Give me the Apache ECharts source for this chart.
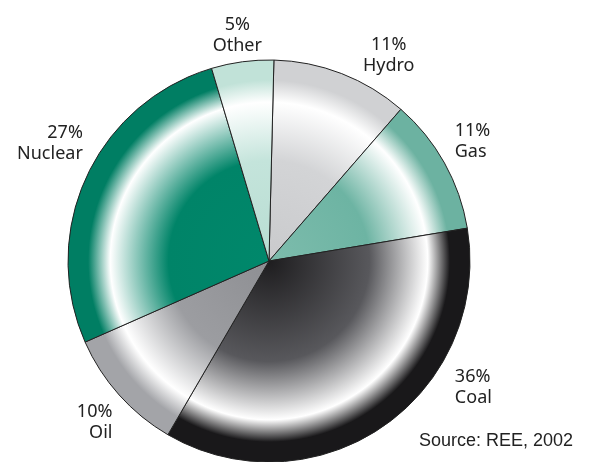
<!DOCTYPE html>
<html>
<head>
<meta charset="utf-8">
<script src="https://cdn.jsdelivr.net/npm/echarts@6/dist/echarts.min.js"></script>
<style>
  html, body { margin: 0; padding: 0; background: #fff; }
  #chart { width: 590px; height: 462px; }
</style>
</head>
<body>
<div id="chart"></div>
<script>
// electricity generation by source (clockwise from the top)
var sources = ['Hydro', 'Gas', 'Coal', 'Oil', 'Nuclear', 'Other'];
var shares = [11, 11, 36, 10, 27, 5];

// look of each slice: colour near centre, mid colour, edge colour
var innerColors = ['#c9cacc', '#7dbcac', '#1e1d1f', '#8e8f93', '#00886b', '#b8ddd2'];
var midColors = ['#d3d4d6', '#6db4a3', '#58585c', '#9c9da1', '#008468', '#c4e4db'];
var outerColors = ['#d0d1d3', '#6cb2a1', '#19181a', '#a3a4a8', '#007e63', '#c1e2d8'];

// label placement (angle in degrees, distance from centre, text alignment)
var labelAngle = [59.8, 32.8, -34.3, -134.1, 147.8, 98];
var labelDist = [238, 221, 225, 225, 220, 228];
var labelAlign = ['center', 'left', 'left', 'right', 'right', 'center'];

var CX = 269, CY = 261, R = 201;

function sliceColor(i) {
  return {
    type: 'radial', x: CX, y: CY, r: R, global: true,
    colorStops: [
      {offset: 0, color: innerColors[i]},
      {offset: 0.5, color: midColors[i]},
      {offset: 0.79, color: '#ffffff'},
      {offset: 0.9, color: outerColors[i]},
      {offset: 1, color: outerColors[i]}
    ]
  };
}

var chart = echarts.init(document.getElementById('chart'), null, {renderer: 'canvas'});

var data = sources.map(function (name, i) {
  return {name: name, value: shares[i], itemStyle: {color: sliceColor(i)}};
});

chart.setOption({
  animation: false,
  backgroundColor: '#ffffff',
  graphic: [{
    type: 'text',
    right: 17,
    bottom: 12,
    style: {
      text: 'Source: REE, 2002',
      font: '18px "Liberation Sans", Arial, sans-serif',
      fill: '#222'
    }
  }],
  series: [{
    type: 'pie',
    center: [CX, CY],
    radius: [0, R],
    startAngle: 88.6,
    clockwise: true,
    avoidLabelOverlap: false,
    data: data,
    itemStyle: {borderColor: '#222', borderWidth: 1},
    label: {
      show: true,
      position: 'outside',
      formatter: function (p) { return p.value + '%\n' + p.name; },
      fontFamily: '"Noto Sans", sans-serif',
      fontSize: 18,
      lineHeight: 21,
      color: '#222'
    },
    labelLine: {show: false, length: 10, length2: 0},
    labelLayout: function (params) {
      var i = params.dataIndex;
      var a = labelAngle[i] * Math.PI / 180;
      return {
        x: CX + labelDist[i] * Math.cos(a),
        y: CY - labelDist[i] * Math.sin(a),
        align: labelAlign[i],
        verticalAlign: 'middle'
      };
    },
    emphasis: {disabled: true}
  }]
});
</script>
</body>
</html>
